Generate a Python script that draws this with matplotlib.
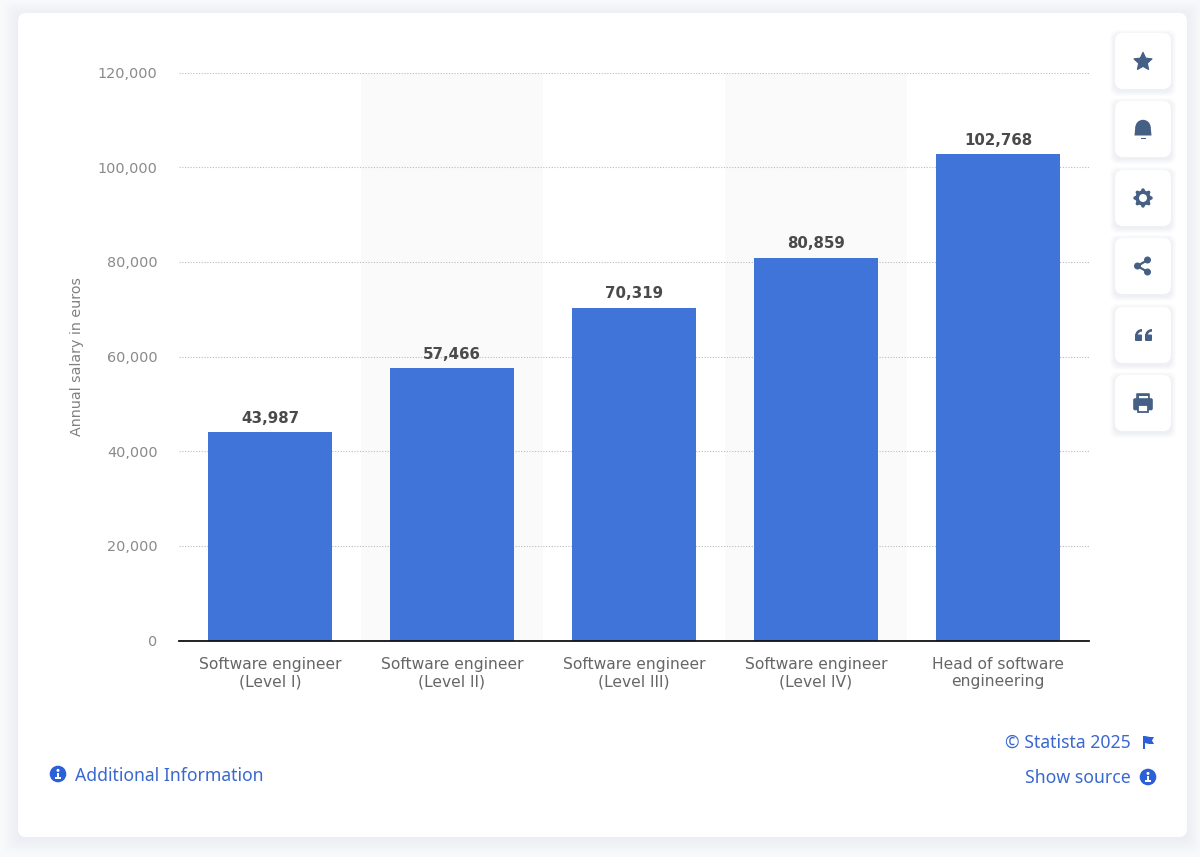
import matplotlib
matplotlib.use('Agg')
import matplotlib.pyplot as plt
import numpy as np
from matplotlib.colors import to_rgb
from matplotlib.patches import Circle, FancyBboxPatch, Polygon, Rectangle, Wedge
from matplotlib.ticker import FuncFormatter, MultipleLocator

plt.rcParams['font.family'] = ['DejaVu Sans']

categories = ['Software engineer\n(Level I)', 'Software engineer\n(Level II)',
              'Software engineer\n(Level III)', 'Software engineer\n(Level IV)',
              'Head of software\nengineering']
salaries = [43987, 57466, 70319, 80859, 102768]
y_label = 'Annual salary in euros'

W, H = 1200, 857
BAR = '#4174d9'
LINK = '#3a68d0'
ICON = '#455f85'
INFO = '#2b60d8'
PAGE = '#f8f9fb'

fig = plt.figure(figsize=(12, 8.57), dpi=100, facecolor=PAGE)

# background layer in pixels, y going down
bg = fig.add_axes([0, 0, 1, 1], zorder=0)
bg.set_xlim(0, W)
bg.set_ylim(H, 0)
bg.axis('off')


def card(x, y, w, h, r, shadow, outer, inner):
    # soft shadow as solid steps, low alpha stacking tints the colour
    c0, c1 = np.array(to_rgb(outer)), np.array(to_rgb(inner))
    for i in range(shadow, 0, -1):
        c = c1 + (c0 - c1) * (i - 1) / shadow
        bg.add_patch(FancyBboxPatch((x - i + r, y - i + 2 + r), w + 2 * i - 2 * r, h + 2 * i - 2 * r,
                                    boxstyle='round,pad=%g' % r, fc=c, ec='none'))
    bg.add_patch(FancyBboxPatch((x + r, y + r), w - 2 * r, h - 2 * r,
                                boxstyle='round,pad=%g' % r, fc='white', ec='none'))


card(18, 13, 1169, 824, 8, 14, PAGE, '#eceef3')

# chart
ax = fig.add_axes([179 / W, 1 - 640.5 / H, 910 / W, 568 / H], zorder=2)
ax.patch.set_alpha(0)
x = np.arange(len(categories))
for i in x:
    if i % 2 == 1:
        ax.axvspan(i - 0.5, i + 0.5, color='#fafafa', lw=0, zorder=0)
ax.yaxis.grid(True, color='#b8bcc0', ls=(0, (1, 1.5)), lw=0.8, zorder=1)
ax.set_axisbelow(True)
bars = ax.bar(x, salaries, width=0.683, color=BAR, zorder=2)
for xi, v in zip(x, salaries):
    ax.annotate(f'{v:,}', (xi, v), xytext=(0, 4.7), textcoords='offset points', ha='center', va='bottom',
                fontsize=10.8, fontweight='bold', color='#4a4a4a', zorder=3)
ax.set_xlim(-0.5, 4.5)
ax.set_ylim(0, 120000)
ax.yaxis.set_major_locator(MultipleLocator(20000))
ax.yaxis.set_major_formatter(FuncFormatter(lambda v, p: f'{int(v):,}'))
ax.set_xticks(x)
ax.set_xticklabels(categories, linespacing=1.2)
ax.tick_params(axis='y', length=0, pad=15.5, labelsize=10.4, labelcolor='#8a8a8a')
ax.tick_params(axis='x', length=0, pad=11.8, labelsize=11.2, labelcolor='#666666')
for s in ['top', 'left', 'right']:
    ax.spines[s].set_visible(False)
ax.spines['bottom'].set_color('#111111')
ax.spines['bottom'].set_linewidth(1.3)
ax.set_ylabel(y_label, fontsize=10.3, color='#808080', labelpad=0)
ax.yaxis.set_label_coords((84 - 179) / 910, (640 - 356) / 568)

# overlay: footer links and the side buttons
ov = fig.add_axes([0, 0, 1, 1], zorder=3)
ov.set_xlim(0, W)
ov.set_ylim(H, 0)
ov.axis('off')
ov.patch.set_alpha(0)


def info_icon(cx, cy):
    ov.add_patch(Circle((cx, cy), 8.3, fc=INFO, ec='none'))
    ov.add_patch(Circle((cx, cy - 3.6), 1.5, fc='white', ec='none'))
    ov.add_patch(Rectangle((cx - 1.3, cy - 1), 2.6, 5.4, fc='white', ec='none'))
    ov.add_patch(Rectangle((cx - 2.6, cy + 3.4), 5.2, 1.4, fc='white', ec='none'))


foot = ['Noto Sans', 'DejaVu Sans']
info_icon(58, 774)
ov.text(75, 776, 'Additional Information', fontsize=12.66, color=LINK, va='center', ha='left', family=foot)
ov.text(1131, 743, '© Statista 2025', fontsize=12.7, color=LINK, va='center', ha='right', family=foot)
ov.text(1131, 778, 'Show source', fontsize=12.7, color=LINK, va='center', ha='right', family=foot)
info_icon(1148, 777)
# flag
ov.add_patch(Rectangle((1143, 736), 1.6, 13, fc=INFO, ec='none'))
ov.add_patch(Polygon([(1145, 736), (1150, 737), (1154, 737), (1152, 740.5), (1154, 744), (1149, 744), (1145, 743)],
                     fc=INFO, ec='none'))

tops = [33, 101, 170, 238, 307, 375]
for t in tops:
    card(1115, t, 56, 56, 8, 5, '#ffffff', '#eef0f4')

# star
cy = tops[0] + 28
ang = np.pi / 2 + np.arange(10) * np.pi / 5
rad = np.where(np.arange(10) % 2 == 0, 9.5, 4.6)
ov.add_patch(Polygon(np.c_[1143 + rad * np.cos(ang), cy + 0.8 - rad * np.sin(ang)], fc=ICON, ec=ICON, lw=0.8,
                     joinstyle='round'))
# bell
cy = tops[1] + 28
ov.add_patch(Wedge((1143, cy - 1.5), 7.7, 180, 360, fc=ICON, ec='none'))
ov.add_patch(Polygon([(1135.3, cy - 2), (1150.7, cy - 2), (1151.5, cy + 6.5), (1134.5, cy + 6.5)], fc=ICON, ec='none'))
ov.add_patch(Rectangle((1140.5, cy + 8.5), 5, 1.6, fc=ICON, ec='none'))
# gear
cy = tops[2] + 28
ang = np.linspace(0, 2 * np.pi, 96, endpoint=False)
rad = 8.6 + 1.1 * np.sign(np.cos(8 * ang)) * np.abs(np.cos(8 * ang)) ** 0.5
ov.add_patch(Polygon(np.c_[1143 + rad * np.cos(ang), cy + rad * np.sin(ang)], fc=ICON, ec='none'))
ov.add_patch(Circle((1143, cy), 4.0, fc='white', ec='none'))
# share
cy = tops[3] + 28
ov.plot([1147.5, 1137.5, 1147.5], [cy - 6, cy, cy + 6], color=ICON, lw=1.6)
for px, py in [(1147.5, cy - 6), (1137.5, cy), (1147.5, cy + 6)]:
    ov.add_patch(Circle((px, py), 3.5, fc=ICON, ec='none'))
# quote
cy = tops[4] + 28
for px in [1135, 1145]:
    ov.add_patch(FancyBboxPatch((px + 1, cy + 0.5), 5, 4.5, boxstyle='round,pad=1', fc=ICON, ec='none'))
    ov.add_patch(Wedge((px + 7, cy + 1), 7, 180, 270, width=2.6, fc=ICON, ec='none'))
# printer
cy = tops[5] + 28
ov.add_patch(FancyBboxPatch((1137, cy - 9), 12, 7, boxstyle='round,pad=0.8', fc=ICON, ec='none'))
ov.add_patch(Rectangle((1138.5, cy - 7.5), 9, 4, fc='white', ec='none'))
ov.add_patch(FancyBboxPatch((1135, cy - 3), 16, 8.5, boxstyle='round,pad=1.8', fc=ICON, ec='none'))
ov.add_patch(Rectangle((1138, cy + 2), 10, 6.5, fc='white', ec=ICON, lw=1.3))

fig.savefig('out.png', dpi=100, facecolor=fig.get_facecolor())
